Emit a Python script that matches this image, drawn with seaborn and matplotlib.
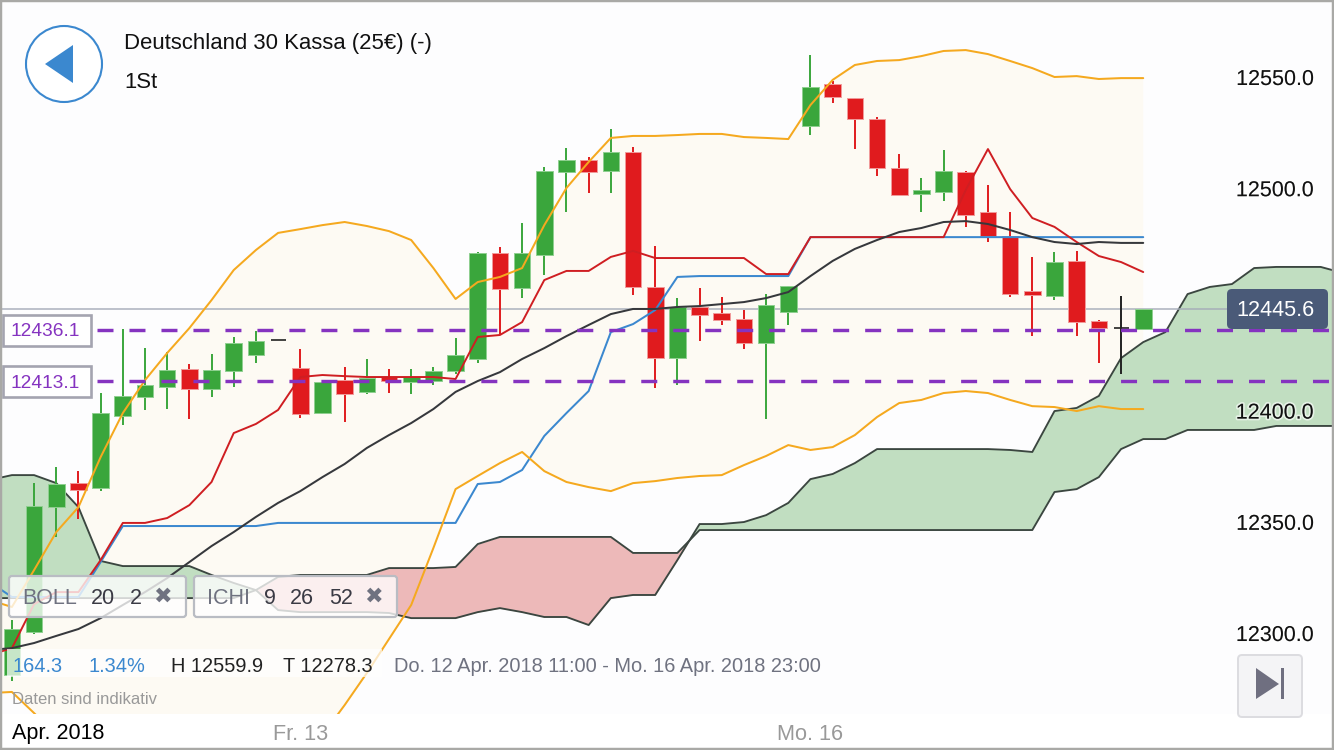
import matplotlib
matplotlib.use("Agg")
import matplotlib.pyplot as plt
from matplotlib.patches import FancyBboxPatch, Rectangle, Circle, Polygon
import matplotlib.patheffects as pe
import numpy as np
import seaborn as sns

opens = [12281.1,12300.4,12356.6,12367.4,12365.2,12397.6,12406.1,12410.6,12418.7,12409.7,
         12417.8,12425.0,12431.7,12419.2,12398.9,12413.7,12408.4,12415.1,12412.8,12413.3,
         12417.8,12423.2,12470.9,12455.1,12470.0,12507.3,12512.7,12507.7,12516.3,12455.6,
         12423.6,12446.6,12443.9,12441.2,12430.4,12444.3,12527.9,12546.8,12540.5,12531.1,
         12509.1,12497.4,12498.3,12507.3,12489.3,12478.5,12453.8,12451.5,12467.3,12440.3,
         12437.1,12436.5]
highs = [12305.8,12367.4,12374.6,12372.8,12407.9,12436.7,12428.1,12426.3,12420.9,12425.4,
         12433.1,12435.8,12431.7,12427.7,12412.8,12419.6,12423.2,12418.7,12418.7,12419.6,
         12432.6,12471.3,12473.6,12484.3,12509.5,12518.1,12514.0,12526.6,12518.5,12474.0,
         12450.6,12455.1,12451.1,12445.2,12452.4,12456.0,12559.9,12548.2,12540.5,12532.0,
         12515.4,12504.6,12517.2,12507.7,12501.4,12489.3,12469.1,12471.3,12471.8,12440.7,
         12451.5,12445.6]
lows = [12278.3,12299.5,12343.2,12351.3,12363.8,12393.5,12400.3,12400.7,12396.2,12406.1,
        12410.6,12421.4,12431.7,12396.7,12398.5,12394.9,12407.5,12407.9,12407.5,12411.5,
        12416.5,12421.4,12434.4,12450.6,12461.0,12489.3,12497.8,12497.8,12452.0,12410.2,
        12411.5,12431.3,12438.5,12427.7,12396.2,12438.5,12523.9,12538.3,12517.6,12505.5,
        12496.9,12489.3,12494.2,12482.6,12475.8,12451.1,12433.5,12449.7,12433.5,12421.4,
        12416.5,12436.5]
closes = [12301.8,12357.1,12367.0,12364.3,12398.9,12406.6,12411.5,12418.2,12409.7,12418.2,
          12430.4,12431.3,12431.7,12398.5,12412.8,12407.5,12414.6,12413.3,12415.1,12417.8,
          12425.0,12470.9,12454.7,12470.9,12507.7,12512.7,12507.3,12516.3,12455.6,12423.6,
          12446.6,12443.0,12440.7,12430.4,12447.5,12456.0,12545.5,12541.0,12531.1,12509.1,
          12496.9,12499.2,12507.7,12487.9,12478.5,12452.4,12452.0,12466.8,12439.8,12437.1,
          12437.1,12445.6]

# Series below start one bar before the first candle
boll_upper = [12314.8,12311.7,12328.3,12345.4,12356.6,12379.1,12398.9,12413.7,12425.9,12437.1,
              12449.7,12463.2,12472.2,12479.9,12481.6,12483.4,12484.8,12483.0,12480.7,12476.7,
              12464.1,12450.2,12457.8,12460.1,12464.1,12483.4,12500.1,12511.8,12522.6,12523.5,
              12523.5,12523.9,12524.4,12524.4,12523.0,12522.6,12522.1,12537.4,12548.7,12555.4,
              12557.2,12557.6,12559.4,12561.7,12562.1,12560.3,12557.2,12554.0,12550.0,12550.4,
              12549.1,12549.5,12549.5]
boll_lower = [12273.0,12273.5,12264.0,12254.1,12245.1,12224.9,12211.4,12202.4,12197.9,12195.7,
              12193.4,12195.7,12202.4,12211.4,12238.4,12254.1,12267.6,12282.0,12297.3,12312.6,
              12338.2,12364.7,12370.6,12376.4,12381.4,12372.8,12367.9,12365.6,12363.8,12367.4,
              12368.3,12369.7,12370.6,12371.0,12375.5,12379.6,12384.5,12382.3,12383.6,12389.0,
              12397.1,12403.4,12404.8,12407.9,12408.8,12407.9,12404.8,12402.0,12401.6,12399.8,
              12402.0,12400.7,12400.7]
boll_mid = [12292.4,12293.2,12295.5,12298.7,12301.8,12306.7,12312.6,12318.4,12324.7,12331.9,
            12339.1,12345.4,12352.2,12358.5,12363.8,12370.1,12376.0,12383.2,12389.0,12394.4,
            12400.7,12408.4,12413.3,12417.3,12423.2,12428.1,12433.5,12438.5,12443.4,12445.7,
            12445.7,12446.6,12447.0,12447.9,12448.8,12450.6,12453.3,12460.5,12467.3,12472.7,
            12476.7,12480.3,12482.1,12484.8,12485.2,12483.9,12481.2,12478.0,12475.8,12474.9,
            12475.8,12475.4,12475.4]
tenkan = [12290.1,12293.2,12313.0,12318.4,12318.4,12332.8,12349.5,12349.5,12351.7,12357.5,
          12367.9,12389.9,12394.0,12400.3,12415.1,12416.0,12415.5,12415.1,12415.1,12415.1,
          12415.1,12414.2,12433.1,12434.0,12439.8,12458.7,12462.8,12462.8,12469.1,12471.8,
          12468.6,12468.6,12468.6,12468.6,12468.6,12461.4,12461.4,12478.0,12478.0,12478.0,
          12478.0,12478.0,12478.0,12478.0,12499.2,12517.6,12499.6,12486.6,12482.6,12475.8,
          12469.5,12466.8,12462.3]
kijun = [12322.9,12316.2,12316.2,12316.2,12316.2,12331.9,12348.1,12348.1,12348.1,12348.1,
         12348.1,12348.1,12348.1,12349.5,12349.5,12349.5,12349.5,12349.5,12349.5,12349.5,
         12349.5,12349.5,12367.0,12367.9,12373.3,12388.6,12398.9,12408.8,12435.3,12438.9,
         12445.2,12460.1,12460.5,12460.5,12460.5,12460.5,12460.5,12478.0,12478.0,12478.0,
         12478.0,12478.0,12478.0,12478.0,12478.0,12478.0,12478.0,12478.0,12478.0,12478.0,
         12478.0,12478.0,12478.0]
senkou_a = [12368.8,12371.0,12371.0,12367.4,12356.6,12332.4,12330.1,12330.1,12330.1,12330.1,
            12326.1,12322.5,12319.3,12310.3,12309.4,12309.4,12309.4,12309.4,12309.0,12306.7,
            12306.7,12306.7,12309.4,12311.2,12309.4,12307.2,12307.2,12303.6,12315.7,12317.1,
            12317.1,12332.8,12349.0,12349.0,12349.9,12353.0,12358.5,12369.2,12371.5,12376.4,
            12382.7,12382.7,12382.7,12382.7,12382.7,12382.7,12382.3,12381.4,12399.8,12401.2,
            12406.6,12423.6,12430.8,12435.3,12452.4,12455.6,12456.9,12464.1,12464.6,12464.6,
            12464.6,12461.9]
senkou_b = [12315.7,12315.7,12315.7,12315.7,12315.7,12315.7,12315.7,12315.7,12315.7,12315.7,
            12315.7,12315.7,12319.3,12325.2,12326.1,12326.1,12326.1,12326.1,12329.2,12329.2,
            12329.2,12329.7,12340.0,12343.2,12343.2,12343.2,12343.2,12343.2,12343.2,12336.0,
            12336.0,12336.0,12346.3,12346.3,12346.3,12346.3,12346.3,12346.3,12346.3,12346.3,
            12346.3,12346.3,12346.3,12346.3,12346.3,12346.3,12346.3,12346.3,12363.4,12364.7,
            12370.1,12382.7,12387.2,12387.2,12391.3,12391.3,12391.3,12391.3,12393.1,12393.1,
            12393.1,12393.1]

ytick_values = [12300, 12350, 12400, 12500, 12550]
xtick_bars = [13, 36]
xtick_labels = ["Fr. 13", "Mo. 16"]
level_upper = 12436.1
level_lower = 12413.1
last_price = 12445.6

GREEN, RED, BLACK = "#3aa63c", "#e01b1e", "#222222"

sns.set_theme(style="white")
plt.rcParams["font.family"] = ["Liberation Sans", "DejaVu Sans"]

fig = plt.figure(figsize=(13.34, 7.5), dpi=100, facecolor="#fdfdfe")
ax = fig.add_axes([0, 0, 1, 1], facecolor="#fdfdfe")

bars = np.arange(len(opens))
line_x = np.arange(-1, len(opens))
cloud_x = np.arange(-1, len(senkou_a) - 1)
a, b = np.array(senkou_a), np.array(senkou_b)

# Bollinger band area
ax.fill_between(line_x, boll_lower, boll_upper, color="#fdfaf3", lw=0, zorder=1)

# Ichimoku cloud: interpolate crossing points so both colours meet exactly
ax.fill_between(cloud_x, a, b, where=a >= b, interpolate=True, color="#c1dec1", lw=0, zorder=1.5)
ax.fill_between(cloud_x, a, b, where=a <= b, interpolate=True, color="#edb9b9", lw=0, zorder=1.5)
for s in (senkou_a, senkou_b):
    sns.lineplot(x=cloud_x, y=s, ax=ax, color="#3b4640", linewidth=1.35, zorder=1.7, legend=False)

ax.axhline(last_price, xmin=0, xmax=1228 / 1334, color="#a4abb8", lw=1.2, alpha=0.85, zorder=1.8)

# Candles
up = np.array(closes) > np.array(opens)
dn = np.array(closes) < np.array(opens)
flat = ~(up | dn)
for mask, col, edge in ((up, GREEN, "#8fcf90"), (dn, RED, "#f19a9a")):
    ax.vlines(bars[mask], np.array(lows)[mask], np.array(highs)[mask], color=col, lw=1.4, zorder=3)
    bottoms = np.minimum(opens, closes)[mask]
    heights = np.abs(np.array(closes) - np.array(opens))[mask]
    ax.bar(bars[mask], heights, bottom=bottoms, width=0.75, color=col, edgecolor=edge, linewidth=0.7, zorder=3.2)
ax.vlines(bars[flat], np.array(lows)[flat], np.array(highs)[flat], color=BLACK, lw=1.4, zorder=3)
ax.hlines(np.array(closes)[flat], bars[flat] - 0.34, bars[flat] + 0.34, color=BLACK, lw=1.2, zorder=3.2)

# Indicator lines
sns.lineplot(x=line_x, y=kijun, ax=ax, color="#3b88cf", linewidth=1.45, zorder=4, legend=False)
sns.lineplot(x=line_x, y=tenkan, ax=ax, color="#cf1e22", linewidth=1.4, zorder=4.1, legend=False)
sns.lineplot(x=line_x, y=boll_mid, ax=ax, color="#36383c", linewidth=1.45, zorder=4.2, legend=False)
sns.lineplot(x=line_x, y=boll_upper, ax=ax, color="#f5a91f", linewidth=1.45, zorder=4.3, legend=False)
sns.lineplot(x=line_x, y=boll_lower, ax=ax, color="#f5a91f", linewidth=1.45, zorder=4.3, legend=False)

# Dashed levels
for lvl in (level_upper, level_lower):
    ax.axhline(lvl, xmin=97 / 1334, xmax=1, color="#8533c0", lw=2.45,
               linestyle=(0, (4.7, 4.7)), zorder=5)

# Pale strips behind the info row and the date axis
ax.add_patch(Rectangle((7 / 1334, 1 - 677 / 750), 375 / 1334, 28 / 750, transform=ax.transAxes,
                       fc="white", ec="none", alpha=0.72, zorder=6))
ax.add_patch(Rectangle((0, 0), 1, 36 / 750, transform=ax.transAxes, fc="white", ec="none", zorder=6))

# Scales
ax.set_xlim(-0.5365, 59.6)
ax.set_ylim(12247.4, 12584.62)
ax.set_xlabel("")
ax.set_ylabel("")
sns.despine(ax=ax, left=True, bottom=True, right=True, top=True)
ax.yaxis.tick_right()
ax.set_yticks(ytick_values)
ax.set_yticklabels([f"{v:.1f}" for v in ytick_values], fontsize=15.5, color="#111111", ha="right")
ax.tick_params(axis="y", length=0, pad=-14.4)
ax.set_xticks(xtick_bars)
ax.set_xticklabels(xtick_labels, fontsize=15.6, color="#999999")
ax.tick_params(axis="x", length=0, pad=-18.5)
ax.xaxis.set_zorder(20)
ax.yaxis.set_zorder(20)
for t in ax.get_yticklabels():
    t.set_path_effects([pe.withStroke(linewidth=2.5, foreground=(1, 1, 1, 0.6))])

# Interface layer in screen pixels
ui = fig.add_axes([0, 0, 1, 1], facecolor="none")
ui.set_xlim(0, 1334)
ui.set_ylim(750, 0)
ui.axis("off")

ui.text(12, 734, "Apr. 2018", fontsize=15.5, color="black", va="center", ha="left")
ui.text(12, 699.5, "Daten sind indikativ", fontsize=12, color="#999999", va="center")

# Back button
ui.add_patch(Circle((64, 64), 38, fc="white", ec="#3b88cf", lw=1.5))
ui.add_patch(Polygon([(45, 64), (73, 45), (73, 83)], closed=True, fc="#3b88cf", ec="none"))
ui.text(124, 43, "Deutschland 30 Kassa (25€) (-)", fontsize=15.95, color="#111111", va="center")
ui.text(124, 83, "1St", fontsize=15.95, color="#111111", va="center")

# Level boxes
for top, lab in ((315, level_upper), (366, level_lower)):
    ui.add_patch(Rectangle((3, top), 88, 30.5, fc="white", ec="#a4a4b0", lw=1.9))
    ui.text(10, top + 17, f"{lab:.1f}", fontsize=13.8, color="#8533c0", va="center")

# Last price tag
ui.add_patch(FancyBboxPatch((1227, 289), 101, 40, boxstyle="round,pad=0,rounding_size=5",
                            fc="#4a5a78", ec="none"))
ui.text(1275, 311, f"{last_price:.1f}", fontsize=15.6, color="white", va="center", ha="center")

# Indicator chips
for x0, w in ((9, 177), (194, 203)):
    ui.add_patch(FancyBboxPatch((x0, 576), w, 41, boxstyle="round,pad=0,rounding_size=3",
                                fc=(1, 1, 1, 0.78), ec="#b9bcc3", lw=1.6))
GREY_T, DARK_T = "#6f7280", "#3a3a44"
for x, s, c in ((22, "BOLL", GREY_T), (91, "20", DARK_T), (130, "2", DARK_T),
                (207, "ICHI", GREY_T), (264, "9", DARK_T), (290, "26", DARK_T), (329, "52", DARK_T)):
    ui.text(x, 598, s, fontsize=15.5, color=c, va="center")
for x in (162, 373):
    ui.text(x, 597, "✖", fontsize=16, color=GREY_T, va="center", ha="center", family="DejaVu Sans")

# Info row
BLUE_T = "#3b88cf"
ui.text(12, 666, "164.3", fontsize=14.4, color=BLUE_T, va="center")
ui.text(88, 666, "1.34%", fontsize=14.4, color=BLUE_T, va="center")
ui.text(171, 666, "H 12559.9", fontsize=14.4, color="#222222", va="center")
ui.text(283, 666, "T 12278.3", fontsize=14.4, color="#222222", va="center")
ui.text(394, 666, "Do. 12 Apr. 2018 11:00 - Mo. 16 Apr. 2018 23:00", fontsize=14.4, color=GREY_T, va="center")

# Jump-to-end button
ui.add_patch(FancyBboxPatch((1238, 655), 64, 62, boxstyle="round,pad=0,rounding_size=4",
                            fc="#f4f4f6", ec="#dcdce0", lw=1.4))
ui.add_patch(Polygon([(1256, 668), (1256, 699), (1279, 684)], closed=True, fc="#6f6f80", ec="none"))
ui.add_patch(Rectangle((1281, 668), 2.6, 31, fc="#6f6f80", ec="none"))

# Outer frame
ui.add_patch(Rectangle((0, 0), 1334, 750, fill=False, ec="#a9a9a6", lw=3.2, clip_on=True))

fig.savefig("out.png", dpi=100, facecolor=fig.get_facecolor())
